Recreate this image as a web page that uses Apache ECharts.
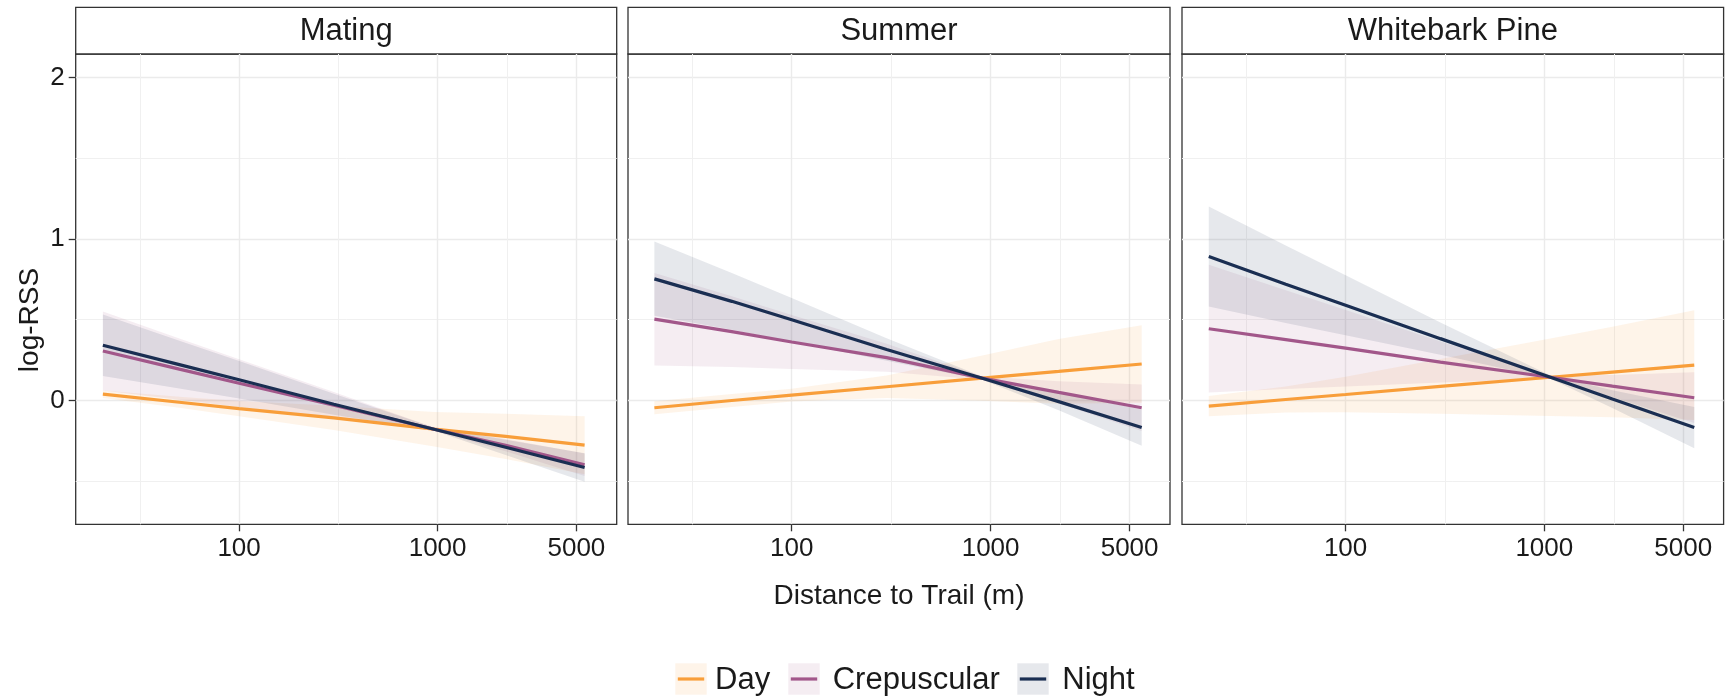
<!DOCTYPE html>
<html>
<head>
<meta charset="utf-8">
<title>log-RSS by distance to trail</title>
<script src="https://cdn.jsdelivr.net/npm/echarts@6/dist/echarts.min.js"></script>
<style>
  html, body { margin: 0; padding: 0; background: #fff; }
  #chart { width: 1730px; height: 698px; }
</style>
</head>
<body>
<div id="chart"></div>
<script>
// tick labels
const xBreaks = [100, 1000, 5000]
const yBreaks = [0, 1, 2]
const yMinorBreaks = [-0.5, 0.5, 1.5]
const periods = ['Day', 'Crepuscular', 'Night']

// Mating
const distMating = [20.6, 50, 100, 300, 960, 2200, 5500]
const dayMating = [0.039, -0.011, -0.050, -0.108, -0.178, -0.222, -0.277]
const dayMatingLo = [0.016, -0.045, -0.097, -0.183, -0.285, -0.362, -0.457]
const dayMatingHi = [0.062, 0.023, -0.003, -0.033, -0.071, -0.082, -0.097]
const crepMating = [0.306, 0.194, 0.107, -0.029, -0.178, -0.277, -0.398]
const crepMatingLo = [0.061, 0.004, -0.041, -0.110, -0.188, -0.315, -0.468]
const crepMatingHi = [0.551, 0.384, 0.255, 0.052, -0.168, -0.239, -0.328]
const nightMating = [0.342, 0.222, 0.128, -0.023, -0.178, -0.290, -0.415]
const nightMatingLo = [0.152, 0.074, 0.012, -0.088, -0.188, -0.337, -0.503]
const nightMatingHi = [0.532, 0.370, 0.244, 0.042, -0.168, -0.243, -0.327]

// Summer
const distSummer = [20.4, 50, 100, 300, 908, 2200, 5750]
const daySummer = [-0.045, 0.0, 0.033, 0.085, 0.138, 0.18, 0.226]
const daySummerLo = [-0.085, -0.04, -0.007, 0.015, -0.002, -0.02, -0.014]
const daySummerHi = [-0.005, 0.04, 0.073, 0.155, 0.278, 0.38, 0.466]
const crepSummer = [0.504, 0.426, 0.362, 0.265, 0.138, 0.05, -0.045]
const crepSummerLo = [0.216, 0.207, 0.195, 0.178, 0.128, -0.019, -0.189]
const crepSummerHi = [0.79, 0.645, 0.529, 0.352, 0.148, 0.119, 0.099]
const nightSummer = [0.753, 0.614, 0.5, 0.316, 0.138, -0.007, -0.168]
const nightSummerLo = [0.525, 0.438, 0.366, 0.246, 0.128, -0.061, -0.28]
const nightSummerHi = [0.985, 0.79, 0.634, 0.386, 0.148, 0.047, -0.056]

// Whitebark Pine
const distPine = [20.5, 50, 100, 300, 1073, 2200, 5680]
const dayPine = [-0.035, 0.006, 0.037, 0.087, 0.144, 0.176, 0.219]
const dayPineLo = [-0.098, -0.074, -0.073, -0.083, -0.096, -0.104, -0.121]
const dayPineHi = [0.028, 0.086, 0.147, 0.257, 0.384, 0.456, 0.559]
const crepPine = [0.444, 0.377, 0.324, 0.238, 0.144, 0.089, 0.017]
const crepPineLo = [0.05, 0.071, 0.087, 0.111, 0.134, 0.021, -0.14]
const crepPineHi = [0.84, 0.683, 0.561, 0.365, 0.154, 0.157, 0.175]
const nightPine = [0.892, 0.72, 0.59, 0.383, 0.144, 0.009, -0.168]
const nightPineLo = [0.582, 0.48, 0.404, 0.283, 0.134, -0.046, -0.296]
const nightPineHi = [1.202, 0.96, 0.776, 0.483, 0.154, 0.064, -0.04]

const panels = [
  { title: 'Mating', dist: distMating,
    Day: [dayMating, dayMatingLo, dayMatingHi],
    Crepuscular: [crepMating, crepMatingLo, crepMatingHi],
    Night: [nightMating, nightMatingLo, nightMatingHi] },
  { title: 'Summer', dist: distSummer,
    Day: [daySummer, daySummerLo, daySummerHi],
    Crepuscular: [crepSummer, crepSummerLo, crepSummerHi],
    Night: [nightSummer, nightSummerLo, nightSummerHi] },
  { title: 'Whitebark Pine', dist: distPine,
    Day: [dayPine, dayPineLo, dayPineHi],
    Crepuscular: [crepPine, crepPineLo, crepPineHi],
    Night: [nightPine, nightPineLo, nightPineHi] }
]

const FONT = '"Liberation Sans", Arial, Helvetica, sans-serif'
const TEXT = '#1a1a1a'
const BORDER = '#333333'
const colors = { Day: '#F89E3A', Crepuscular: '#A2578A', Night: '#1A2E52' }
const fills = {
  Day: 'rgba(248,158,58,0.11)',
  Crepuscular: 'rgba(162,87,138,0.11)',
  Night: 'rgba(26,46,82,0.11)'
}

// panel boxes (px)
const boxes = [
  { left: 75.7, width: 541 },
  { left: 628, width: 542 },
  { left: 1182, width: 541.6 }
]
const panelTop = 54
const panelHeight = 470.3
const stripTop = 7.3

// axis ranges (x in log10 metres)
const xMin = 1.177
const xMax = 3.902
const yMin = -0.767
const yMax = 2.146

const xMajor = xBreaks.map(Math.log10)
const xMinor = [
  xMajor[0] - (xMajor[1] - xMajor[0]) / 2,
  (xMajor[0] + xMajor[1]) / 2,
  (xMajor[1] + xMajor[2]) / 2
]

const toXY = (dist, vals) => dist.map((d, i) => [Math.log10(d), vals[i]])
const toRibbon = (dist, lo, hi) => dist.map((d, i) => [Math.log10(d), lo[i], hi[i]])

// one filled polygon per ribbon, mapped through the grid's axes
function ribbonRenderer(rows, fill) {
  return function (params, api) {
    if (params.dataIndex !== 0) return null
    const upper = rows.map((r) => api.coord([r[0], r[2]]))
    const lower = rows.map((r) => api.coord([r[0], r[1]])).reverse()
    return {
      type: 'polygon',
      shape: { points: upper.concat(lower) },
      style: { fill: fill },
      silent: true
    }
  }
}

const grids = []
const xAxes = []
const yAxes = []
const series = []
const graphics = []

panels.forEach((p, g) => {
  const box = boxes[g]
  grids.push({
    left: box.left, top: panelTop, width: box.width, height: panelHeight,
    show: true, borderColor: BORDER, borderWidth: 1.3,
    containLabel: false, outerBoundsMode: 'none'
  })

  // major x axis
  xAxes.push({
    type: 'value', gridIndex: g, min: xMin, max: xMax, position: 'bottom',
    axisLine: { show: false, onZero: false },
    axisTick: { show: true, length: 7, lineStyle: { color: BORDER, width: 1.3 }, customValues: xMajor },
    axisLabel: {
      customValues: xMajor, margin: 12, fontSize: 26, color: TEXT, fontFamily: FONT,
      formatter: (v) => String(Math.round(Math.pow(10, v)))
    },
    splitLine: { show: true, lineStyle: { color: '#EBEBEB', width: 1.4 } },
    name: g === 1 ? 'Distance to Trail (m)' : '',
    nameLocation: 'middle', nameGap: 58,
    nameTextStyle: { fontSize: 28, color: TEXT, fontFamily: FONT }
  })
  // minor x grid
  xAxes.push({
    type: 'value', gridIndex: g, min: xMin, max: xMax, position: 'bottom',
    axisLine: { show: false, onZero: false },
    axisTick: { show: false, customValues: xMinor },
    axisLabel: { show: false, customValues: xMinor },
    splitLine: { show: true, lineStyle: { color: '#F0F0F0', width: 1 } }
  })

  // major y axis
  yAxes.push({
    type: 'value', gridIndex: g, min: yMin, max: yMax, position: 'left',
    axisLine: { show: false, onZero: false },
    axisTick: { show: g === 0, length: 7, lineStyle: { color: BORDER, width: 1.3 }, customValues: yBreaks },
    axisLabel: { show: g === 0, customValues: yBreaks, margin: 11, fontSize: 26, color: TEXT, fontFamily: FONT },
    splitLine: { show: true, lineStyle: { color: '#EBEBEB', width: 1.4 } }
  })
  // minor y grid
  yAxes.push({
    type: 'value', gridIndex: g, min: yMin, max: yMax, position: 'left',
    axisLine: { show: false, onZero: false },
    axisTick: { show: false, customValues: yMinorBreaks },
    axisLabel: { show: false, customValues: yMinorBreaks },
    splitLine: { show: true, lineStyle: { color: '#F0F0F0', width: 1 } }
  })

  // confidence ribbons first
  periods.forEach((name) => {
    const [, lo, hi] = p[name]
    const rows = toRibbon(p.dist, lo, hi)
    series.push({
      type: 'custom', xAxisIndex: 2 * g, yAxisIndex: 2 * g,
      data: rows, encode: { x: 0, y: [1, 2] },
      renderItem: ribbonRenderer(rows, fills[name]),
      silent: true, z: 2
    })
  })
  // fitted lines on top
  periods.forEach((name) => {
    series.push({
      name, type: 'line', xAxisIndex: 2 * g, yAxisIndex: 2 * g,
      data: toXY(p.dist, p[name][0]),
      symbol: 'none', lineStyle: { color: colors[name], width: 3.2 },
      itemStyle: { color: colors[name] }, z: 3
    })
  })

  // facet strip
  graphics.push({
    type: 'rect',
    shape: { x: box.left, y: stripTop, width: box.width, height: panelTop - stripTop },
    style: { fill: '#ffffff', stroke: BORDER, lineWidth: 1.3 }
  })
  graphics.push({
    type: 'text',
    style: {
      text: p.title, x: box.left + box.width / 2, y: (stripTop + panelTop) / 2 + 1,
      align: 'center', verticalAlign: 'middle',
      fontSize: 31, fontFamily: FONT, fill: TEXT
    }
  })
})

// y axis title
graphics.push({
  type: 'text', x: 30, y: 320, rotation: Math.PI / 2,
  style: {
    text: 'log-RSS', x: 0, y: 0, align: 'center', verticalAlign: 'middle',
    fontSize: 28, fontFamily: FONT, fill: TEXT
  }
})

// legend keys drawn like ggplot's (filled square + line)
const legendKeys = [
  { name: 'Day', x: 675.3, textX: 715 },
  { name: 'Crepuscular', x: 788.3, textX: 832.7 },
  { name: 'Night', x: 1017.3, textX: 1062.3 }
]
const keySize = 31.4
const keyTop = 663.3
legendKeys.forEach((k) => {
  graphics.push({
    type: 'rect',
    shape: { x: k.x, y: keyTop, width: keySize, height: keySize },
    style: { fill: fills[k.name] }
  })
  graphics.push({
    type: 'line',
    shape: { x1: k.x + 2.5, y1: keyTop + keySize / 2, x2: k.x + keySize - 2.5, y2: keyTop + keySize / 2 },
    style: { stroke: colors[k.name], lineWidth: 3.2 }
  })
  graphics.push({
    type: 'text',
    style: {
      text: k.name, x: k.textX, y: keyTop + keySize / 2 + 1,
      align: 'left', verticalAlign: 'middle',
      fontSize: 31, fontFamily: FONT, fill: TEXT
    }
  })
})

const chart = echarts.init(document.getElementById('chart'), null, { renderer: 'canvas' })
chart.setOption({
  animation: false,
  backgroundColor: '#ffffff',
  grid: grids,
  xAxis: xAxes,
  yAxis: yAxes,
  series,
  graphic: graphics
})
</script>
</body>
</html>
